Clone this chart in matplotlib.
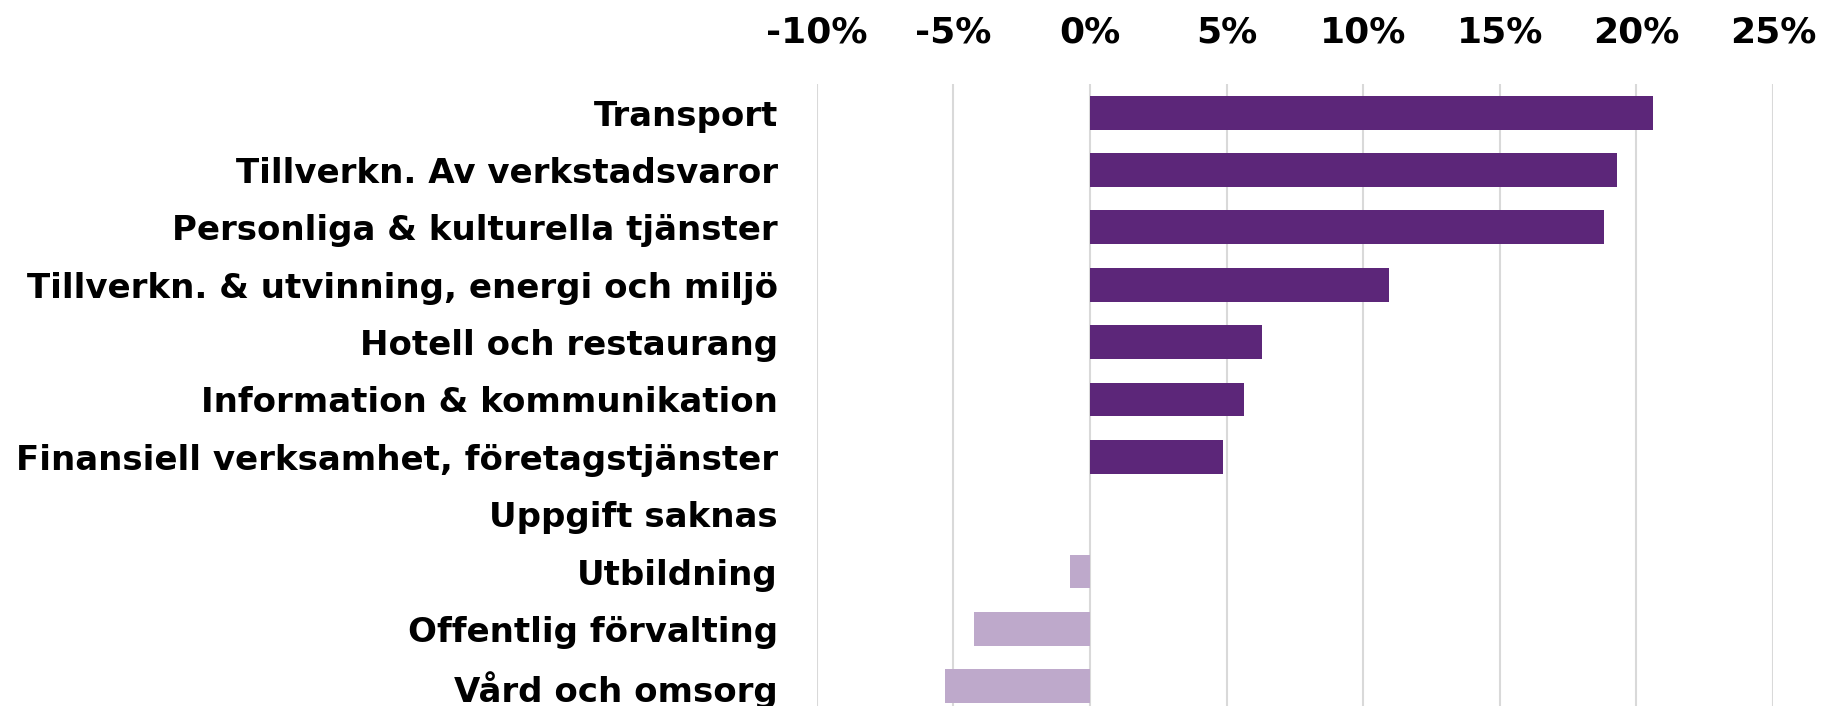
import matplotlib
matplotlib.use("Agg")
import matplotlib.pyplot as plt
from matplotlib.ticker import FuncFormatter

categories = ["Transport",
              "Tillverkn. Av verkstadsvaror",
              "Personliga & kulturella tjänster",
              "Tillverkn. & utvinning, energi och miljö",
              "Hotell och restaurang",
              "Information & kommunikation",
              "Finansiell verksamhet, företagstjänster",
              "Uppgift saknas",
              "Utbildning",
              "Offentlig förvalting",
              "Vård och omsorg"]
values = [20.6, 19.3, 18.8, 10.95, 6.3, 5.65, 4.86, 0.0, -0.73, -4.24, -5.31]
xticks = [-10, -5, 0, 5, 10, 15, 20, 25]

dark = "#5C2679"
light = "#BEA9CB"

plt.rcParams['font.family'] = ['DejaVu Sans']

fig = plt.figure(figsize=(18.24, 7.06), dpi=100)
ax = fig.add_axes([0.4478, -0.0127, 0.5242, 0.8937])

ypos = list(range(len(categories)))
colors = [dark if v > 0 else light for v in values]
ax.barh(ypos, values, height=0.59, color=colors, zorder=3)

ax.set_xlim(-10, 25)
ax.set_ylim(len(categories) - 0.5, -0.5)
ax.set_xticks(xticks)
ax.xaxis.set_major_formatter(FuncFormatter(lambda v, p: f"{v:.0f}%"))
ax.xaxis.tick_top()
ax.set_yticks(ypos)
ax.set_yticklabels(categories)
ax.grid(axis='x', color="#D9D9D9", linewidth=1.5, zorder=0)
for s in ax.spines.values():
    s.set_visible(False)
ax.tick_params(axis='x', length=0, pad=25, labelsize=26)
ax.tick_params(axis='y', length=0, pad=28, labelsize=24.5)
for lab in ax.get_xticklabels() + ax.get_yticklabels():
    lab.set_fontweight('bold')

fig.savefig("out.png", dpi=100)
